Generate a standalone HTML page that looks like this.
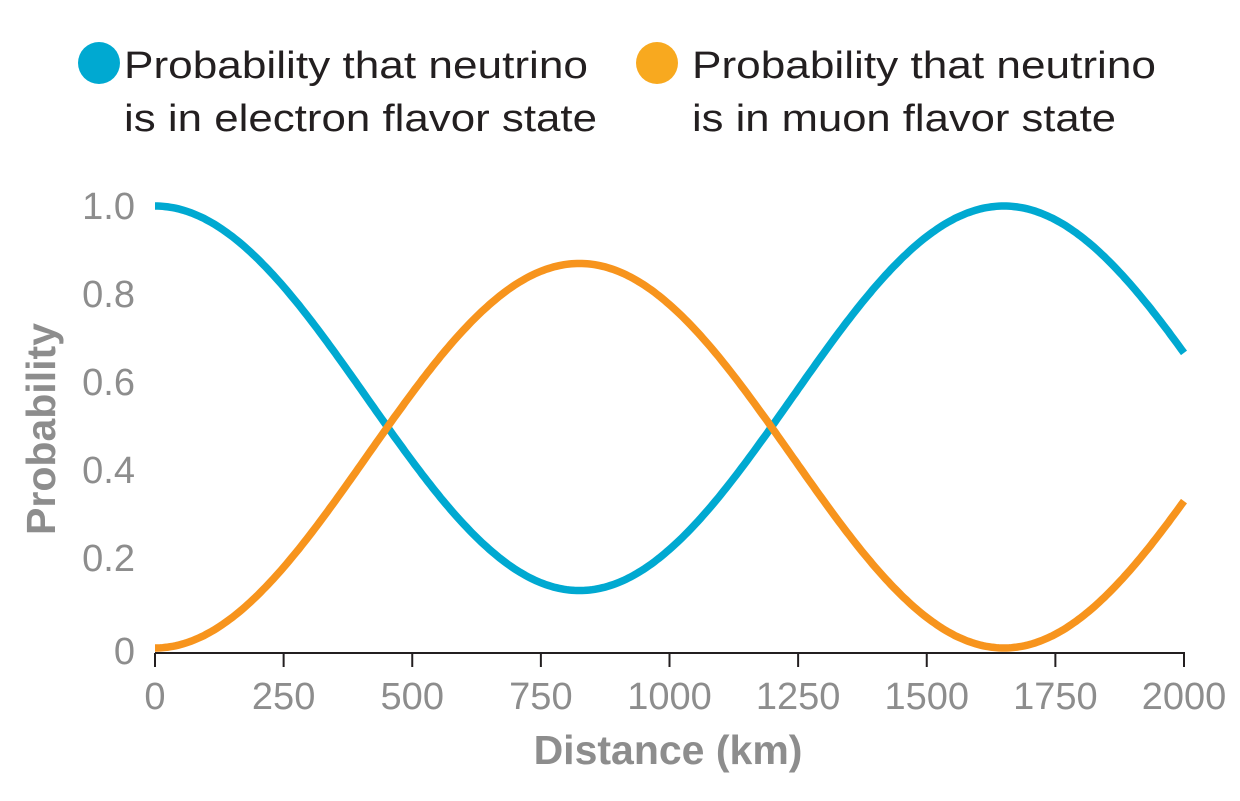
<!DOCTYPE html>
<html><head><meta charset="utf-8"><style>
html,body{margin:0;padding:0;background:#fff;}
svg{display:block;font-family:"Liberation Sans",sans-serif;}
</style></head><body>
<svg id="s" width="1240" height="801" viewBox="0 0 1240 801">
<circle cx="99" cy="63" r="21" fill="#00a9d1"/>
<circle cx="657" cy="63" r="21" fill="#f8a91f"/>
<g fill="#231f20" font-size="38">
<text x="124" y="78" textLength="464" lengthAdjust="spacingAndGlyphs">Probability that neutrino</text>
<text x="124" y="131" textLength="473" lengthAdjust="spacingAndGlyphs">is in electron flavor state</text>
<text x="692" y="78" textLength="464" lengthAdjust="spacingAndGlyphs">Probability that neutrino</text>
<text x="692" y="131" textLength="424" lengthAdjust="spacingAndGlyphs">is in muon flavor state</text>
</g>
<g fill="#8d8d8d" font-size="38" text-anchor="end">
<text x="135" y="219">1.0</text>
<text x="135" y="307">0.8</text>
<text x="135" y="395">0.6</text>
<text x="135" y="483">0.4</text>
<text x="135" y="571">0.2</text>
<text x="135" y="664">0</text>
</g>
<g fill="#8d8d8d" font-size="38" text-anchor="middle" id="xl"></g>
<text x="668" y="764" fill="#8d8d8d" font-size="41" font-weight="bold" text-anchor="middle">Distance (km)</text>
<text transform="translate(55,429) rotate(-90)" fill="#8d8d8d" font-size="41" font-weight="bold" text-anchor="middle">Probability</text>
<g stroke="#231f20" stroke-width="2" id="ax"><line x1="155" y1="653" x2="1185" y2="653"/></g>
<path id="b" fill="none" stroke="#00a9d1" stroke-width="7.5"/>
<path id="o" fill="none" stroke="#f7941d" stroke-width="7.5"/>
</svg>
<script>
var ns="http://www.w3.org/2000/svg";
var X=function(v){return 155+v*1029/2000;}, Y=function(p){return 648-p*442;};
var xl=document.getElementById('xl'),ax=document.getElementById('ax');
for(var i=0;i<=8;i++){var v=i*250,x=X(v);
var t=document.createElementNS(ns,'text');t.setAttribute('x',x);t.setAttribute('y',709);t.textContent=v;xl.appendChild(t);
var l=document.createElementNS(ns,'line');l.setAttribute('x1',x);l.setAttribute('x2',x);l.setAttribute('y1',653);l.setAttribute('y2',667);ax.appendChild(l);}
var db='',dO='';
for(var v=0;v<=2000;v+=5){var s=Math.sin(Math.PI*v/1650);var p=1-0.87*s*s;
db+=(v?'L':'M')+X(v).toFixed(1)+' '+Y(p).toFixed(1);
dO+=(v?'L':'M')+X(v).toFixed(1)+' '+Y(1-p).toFixed(1);}
document.getElementById('b').setAttribute('d',db);
document.getElementById('o').setAttribute('d',dO);
</script>
</body></html>
